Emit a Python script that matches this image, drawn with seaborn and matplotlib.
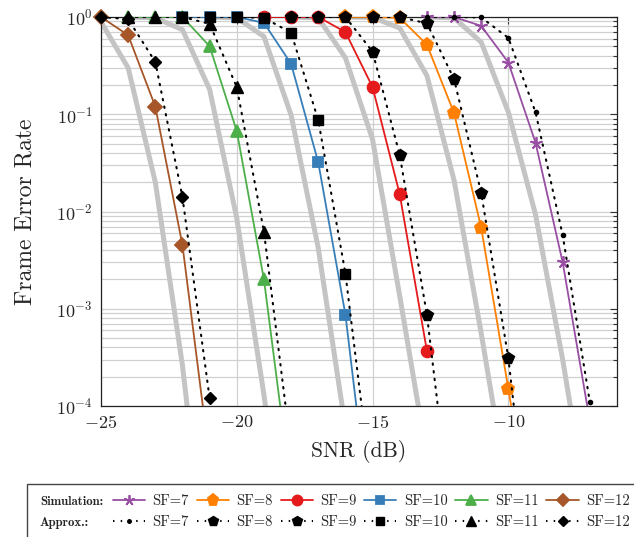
import numpy as np
import pandas as pd
import matplotlib
matplotlib.use("Agg")
import matplotlib.pyplot as plt
import seaborn as sns
from matplotlib.lines import Line2D
from matplotlib.patches import Rectangle
from matplotlib.ticker import LogLocator, NullFormatter, FixedLocator

# ---------------- data ----------------
sf_labels = ["SF=7", "SF=8", "SF=9", "SF=10", "SF=11", "SF=12"]

sim7_snr = [-13, -12, -11, -10, -9, -8, -7]
sim7_fer = [1.0, 1.0, 0.81, 0.34, 0.051, 0.0030, 7e-5]
sim8_snr = [-16, -15, -14, -13, -12, -11, -10, -9]
sim8_fer = [1.0, 1.0, 0.98, 0.52, 0.103, 0.0068, 1.5e-4, 3e-6]
sim9_snr = [-19, -18, -17, -16, -15, -14, -13]
sim9_fer = [1.0, 1.0, 1.0, 0.70, 0.19, 0.015, 3.7e-4]
sim10_snr = [-22, -21, -20, -19, -18, -17, -16, -15]
sim10_fer = [1.0, 1.0, 1.0, 0.87, 0.33, 0.032, 8.7e-4, 4e-6]
sim11_snr = [-24, -23, -22, -21, -20, -19, -18]
sim11_fer = [1.0, 1.0, 1.0, 0.50, 0.067, 0.0020, 1.35e-5]
sim12_snr = [-25, -24, -23, -22, -21]
sim12_fer = [1.0, 0.65, 0.12, 0.0045, 2.8e-5]

app7_snr = [-13, -12, -11, -10, -9, -8, -7]
app7_fer = [1.0, 1.0, 0.99, 0.61, 0.105, 0.0057, 1.1e-4]
app8_snr = [-15, -14, -13, -12, -11, -10, -9]
app8_fer = [1.0, 1.0, 0.86, 0.23, 0.0155, 3.1e-4, 1.1e-6]
app9_snr = [-18, -17, -16, -15, -14, -13, -12]
app9_fer = [1.0, 1.0, 1.0, 0.44, 0.038, 8.7e-4, 4e-6]
app10_snr = [-22, -21, -20, -19, -18, -17, -16, -15]
app10_fer = [1.0, 1.0, 1.0, 0.98, 0.69, 0.087, 0.0023, 1.2e-5]
app11_snr = [-24, -23, -22, -21, -20, -19, -18]
app11_fer = [1.0, 1.0, 1.0, 0.85, 0.19, 0.0062, 3.5e-5]
app12_snr = [-25, -24, -23, -22, -21]
app12_fer = [1.0, 0.95, 0.345, 0.014, 1.2e-4]

gray7_snr = [-13, -12, -11, -10, -9, -8, -7]
gray7_fer = [1.0, 0.98, 0.55, 0.105, 0.0093, 3e-4, 6e-6]
gray8_snr = [-16, -15, -14, -13, -12, -11, -10]
gray8_fer = [1.0, 0.99, 0.77, 0.25, 0.021, 5.6e-4, 1.2e-5]
gray9_snr = [-18, -17, -16, -15, -14, -13]
gray9_fer = [1.0, 0.98, 0.38, 0.055, 0.00135, 3e-5]
gray10_snr = [-21, -20, -19, -18, -17, -16]
gray10_fer = [1.0, 0.98, 0.63, 0.098, 0.0042, 6e-5]
gray11_snr = [-24, -23, -22, -21, -20, -19, -18]
gray11_fer = [1.0, 0.98, 0.74, 0.18, 0.0085, 1.3e-4, 1e-6]
gray12_snr = [-25, -24, -23, -22, -21]
gray12_fer = [0.89, 0.30, 0.020, 2.6e-4, 1e-6]

x_ticks = [-25, -20, -15, -10]
x_range = [-25, -6]
y_range = [1e-4, 1.0]

sim_data = [(sim7_snr, sim7_fer), (sim8_snr, sim8_fer), (sim9_snr, sim9_fer),
            (sim10_snr, sim10_fer), (sim11_snr, sim11_fer), (sim12_snr, sim12_fer)]
app_data = [(app7_snr, app7_fer), (app8_snr, app8_fer), (app9_snr, app9_fer),
            (app10_snr, app10_fer), (app11_snr, app11_fer), (app12_snr, app12_fer)]
gray_data = [(gray7_snr, gray7_fer), (gray8_snr, gray8_fer), (gray9_snr, gray9_fer),
             (gray10_snr, gray10_fer), (gray11_snr, gray11_fer), (gray12_snr, gray12_fer)]

# ---------------- style ----------------
sns.set_theme(style="white")
plt.rcParams.update({
    "font.family": ["cmr10", "DejaVu Serif"],
    "mathtext.fontset": "cm",
    "axes.formatter.use_mathtext": True,
    "axes.unicode_minus": True,
})

set1 = sns.color_palette("Set1", 9)
sim_colors = [set1[3], set1[4], set1[0], set1[1], set1[2], set1[6]]
sim_markers = [(5, 2, 0), "p", "o", "s", "^", "D"]
sim_ms = [9, 9.5, 8.5, 7.5, 8.5, 7]
app_markers = ["o", "p", "p", "s", "^", "D"]
app_ms = [3, 8.5, 8.5, 7, 8, 6.5]
gray_color = "#c4c4c4"

fig = plt.figure(figsize=(6.34, 5.37), dpi=100)
ax = fig.add_axes([101 / 634, 1 - 406 / 537, (617 - 101) / 634, (406 - 17) / 537])

# gray reference curves
for snr, fer in gray_data:
    sns.lineplot(x=snr, y=fer, ax=ax, color=gray_color, lw=3.6, sort=False,
                 estimator=None, zorder=2, solid_capstyle="butt")

# simulation curves
for (snr, fer), c, m, ms in zip(sim_data, sim_colors, sim_markers, sim_ms):
    sns.lineplot(x=snr, y=fer, ax=ax, color=c, lw=1.3, sort=False,
                 estimator=None, zorder=3)
    s = np.array(snr); f = np.array(fer); k = f >= y_range[0] * 0.999
    ax.plot(s[k], f[k], linestyle="none", marker=m, ms=ms, color=c,
            markeredgecolor=c, markeredgewidth=1.3, clip_on=False, zorder=3.1)

# approximation curves
for (snr, fer), m, ms in zip(app_data, app_markers, app_ms):
    sns.lineplot(x=snr, y=fer, ax=ax, color="black", lw=1.5, sort=False,
                 estimator=None, zorder=4, linestyle=(0, (0.7, 3.0)),
                 dash_capstyle="round")
    s = np.array(snr); f = np.array(fer); k = f >= y_range[0] * 0.999
    ax.plot(s[k], f[k], linestyle="none", marker=m, ms=ms, color="black",
            clip_on=False, zorder=4.1)

ax.set_yscale("log")
ax.set_xlim(*x_range)
ax.set_ylim(*y_range)
ax.xaxis.set_major_locator(FixedLocator(x_ticks))
ax.yaxis.set_major_locator(LogLocator(base=10, numticks=10))
ax.yaxis.set_minor_locator(LogLocator(base=10, subs=np.arange(2, 10), numticks=20))
ax.yaxis.set_minor_formatter(NullFormatter())

ax.grid(which="major", color="#d0d0d0", lw=0.9, zorder=1)
ax.grid(which="minor", axis="y", color="#d0d0d0", lw=0.9, zorder=1)
ax.set_axisbelow(True)

ax.tick_params(which="both", direction="in", top=True, right=True,
               color="#333333", width=0.8)
ax.tick_params(which="major", length=5, labelsize=13, pad=6)
ax.tick_params(which="minor", length=3)
for sp in ax.spines.values():
    sp.set_color("#222222")
    sp.set_linewidth(0.9)
    sp.set_zorder(2.5)

ax.set_xlabel("SNR (dB)", fontsize=15.5, labelpad=6)
ax.set_ylabel("Frame Error Rate", fontsize=17, labelpad=14)

# ---------------- legend ----------------
handles, labels = [], []
for i in range(6):
    handles.append(Line2D([], [], color=sim_colors[i], lw=1.3, marker=sim_markers[i],
                          ms=sim_ms[i] * 0.85, markeredgewidth=1.3))
    labels.append(sf_labels[i])
    handles.append(Line2D([], [], color="black", lw=1.5, linestyle=(0, (0.7, 3.0)),
                          marker=app_markers[i], ms=app_ms[i] * 0.85))
    labels.append(sf_labels[i])

fig.legend(handles, labels, ncol=6, loc="upper left",
           bbox_to_anchor=(113 / 634, 1 - 494 / 537), bbox_transform=fig.transFigure,
           frameon=False, fontsize=10.5, handlelength=2.2, handletextpad=0.5,
           columnspacing=0.55, labelspacing=0.5, borderpad=0, borderaxespad=0)

fig.text(40 / 634, 1 - 502 / 537, "Simulation:", family="cmb10", fontsize=9.2, va="center")
fig.text(40 / 634, 1 - 523 / 537, "Approx.:", family="cmb10", fontsize=9.2, va="center")
fig.patches.append(Rectangle((27 / 634, -0.05), 1.0, (537 - 484) / 537 + 0.05,
                             transform=fig.transFigure, fill=False, lw=1.0,
                             edgecolor="#444444"))

fig.savefig("out.png", dpi=100)
